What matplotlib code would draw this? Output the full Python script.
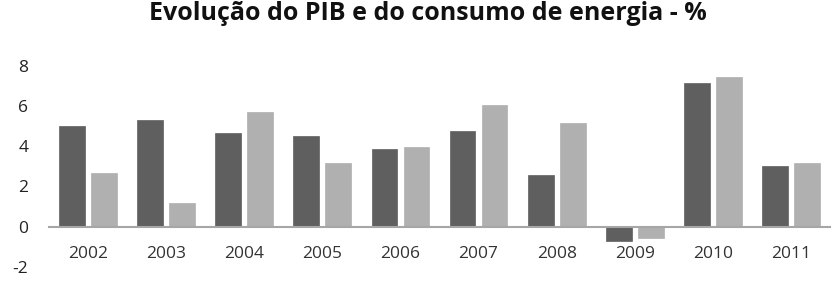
import matplotlib
matplotlib.use("Agg")
import matplotlib.pyplot as plt
import numpy as np

years = ["2002", "2003", "2004", "2005", "2006", "2007", "2008", "2009", "2010", "2011"]
pib = [5.02, 5.32, 4.66, 4.51, 3.85, 4.76, 2.55, -0.70, 7.15, 3.02]
energia = [2.65, 1.16, 5.69, 3.15, 3.95, 6.08, 5.14, -0.58, 7.45, 3.15]
yticks = [-2, 0, 2, 4, 6, 8]

plt.rcParams['font.family'] = ['Open Sans', 'DejaVu Sans']

fig = plt.figure(figsize=(8.38, 2.81), dpi=100)
ax = fig.add_axes([49/838, 1-266.7/281, (830-49)/838, (266.7-66)/281])

x = np.arange(len(years))
w = 0.33
ax.bar(x - 0.205, pib, w, color='#5f5f5f', edgecolor='#5f5f5f', linewidth=0.5)
ax.bar(x + 0.205, energia, w, color='#b0b0b0', edgecolor='#b0b0b0', linewidth=0.5)

ax.set_xlim(-0.5, len(years) - 0.5)
ax.set_ylim(-2, 8)
ax.set_yticks(yticks)
ax.set_yticklabels([str(v) for v in yticks], fontsize=12.5, color='#222222')
ax.tick_params(axis='y', length=0, pad=15)

for s in ['top', 'right', 'left']:
    ax.spines[s].set_visible(False)
ax.spines['bottom'].set_position(('data', 0))
ax.spines['bottom'].set_color('#a6a6a6')
ax.spines['bottom'].set_linewidth(1.5)
ax.set_xticks(x)
ax.set_xticklabels(years, fontsize=12.5, color='#333333')
ax.tick_params(axis='x', length=0, pad=14)

fig.text(0.510, 1 - 20/281, "Evolução do PIB e do consumo de energia - %", ha='center', va='baseline',
         fontsize=18, fontweight='bold', color='#111111')

fig.savefig("out.png", dpi=100)
